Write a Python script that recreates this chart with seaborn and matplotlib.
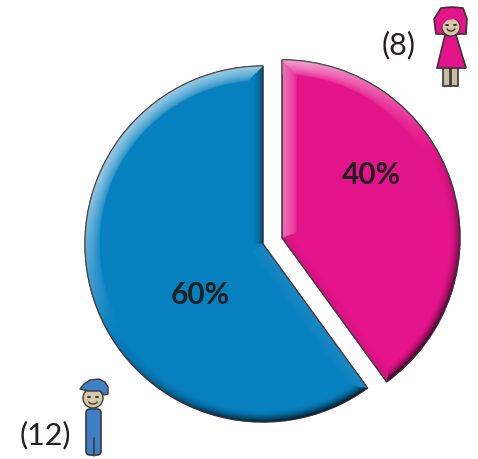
#!/usr/bin/env python3
import numpy as np
import matplotlib
matplotlib.use('Agg')
import matplotlib.pyplot as plt
from matplotlib.patches import Circle, Polygon, Rectangle, FancyBboxPatch, PathPatch
import seaborn as sns

sns.set_theme(style='white')
plt.rcParams['font.family'] = ['Lato', 'DejaVu Sans']

# data
groups = ['Women', 'Men']
counts = [8, 12]
percent_labels = ['40%', '60%']
count_labels = ['(8)', '(12)']
palette = sns.color_palette(['#E4148A', '#0680BF'])

W, H = 478, 460
CENTER = (263, H - 245)
RADIUS = 178
EXPLODE = (20, 0)  # pie adds this to the centre as is, so it's in pixels here

def Y(y):
    return H - y

def bevel(ax, wedge):
    # light top/left, dark bottom/right, faded in from the wedge's edge
    cx, cy = wedge.center
    R = wedge.r
    t1, t2 = np.deg2rad(wedge.theta1), np.deg2rad(wedge.theta2)
    xs = np.arange(cx - R - 2, cx + R + 2, 0.5)
    ys = np.arange(cy - R - 2, cy + R + 2, 0.5)
    gx, gy = np.meshgrid(xs, ys)
    dx, dy = gx - cx, gy - cy
    r = np.hypot(dx, dy) + 1e-6
    best = R - r
    nx, ny = dx / r, dy / r
    # straight sides only count along their own ray (blue wedge is reflex)
    for t, sign in ((t1, -1), (t2, 1)):
        ex, ey = np.cos(t), np.sin(t)
        px, py = -ey * sign, ex * sign
        d = -(dx * px + dy * py)
        along = dx * ex + dy * ey
        use = (d < best) & (d >= 0) & (along > 0)
        best = np.where(use, d, best)
        nx = np.where(use, px, nx)
        ny = np.where(use, py, ny)
    s = nx * -0.5 + ny * 0.85
    light = np.clip(1 - best / 15, 0, 1) ** 0.55 * np.clip(s * 1.3, 0, 1) * 0.6
    dark = np.clip(1 - best / 11, 0, 1) ** 1.6 * np.clip(-s, 0, 1) * 0.85
    rgba = np.zeros(gx.shape + (4,))
    rgba[..., :3] = np.where(light[..., None] > 0, 1.0, 0.0)
    rgba[..., 3] = light + dark
    im = ax.imshow(rgba, extent=(xs[0], xs[-1], ys[0], ys[-1]), origin='lower',
                   interpolation='bilinear', zorder=2, aspect='equal')
    im.set_clip_path(wedge)

def woman(ax, ec='#3a3335'):
    pink = palette[0]
    for x0, x1 in ((443, 450), (451, 458)):
        ax.add_patch(Rectangle((x0, Y(87)), x1 - x0, 19, fc='#c9bda0', ec=ec, lw=1.2, zorder=4))
    ax.add_patch(Polygon([(445, Y(36)), (456, Y(36)), (466, Y(69)), (437, Y(69))],
                         fc=pink, ec=ec, lw=1.2, zorder=5))
    hair = [(436, Y(35)), (434, Y(20)), (441, Y(9)), (452, Y(8)), (463, Y(9)), (467, Y(20)),
            (466, Y(35)), (459, Y(35)), (450, Y(37)), (442, Y(35))]
    ax.add_patch(Polygon(hair, closed=True, fc=pink, ec=ec, lw=1.2, joinstyle='round', zorder=5))
    ax.add_patch(Circle((451, Y(28)), 9, fc='#d6c7a6', ec=ec, lw=0.8, zorder=6))
    ax.add_patch(Polygon([(441, Y(28)), (441, Y(16)), (450, Y(13)), (462, Y(15)), (462, Y(26)),
                          (456, Y(20)), (447, Y(21))], fc=pink, ec='none', zorder=7))
    ax.plot([446, 448], [Y(26), Y(26)], color=ec, lw=1.4, zorder=8)
    ax.plot([454, 456], [Y(26), Y(26)], color=ec, lw=1.4, zorder=8)
    arc = np.linspace(np.pi * 1.1, np.pi * 1.9, 12)
    ax.plot(451 + 4 * np.cos(arc), Y(29) + 3 * np.sin(arc), color=ec, lw=1, zorder=8)

def man(ax, ec='#3a3a3a', blue='#3E7FC6'):
    ax.add_patch(FancyBboxPatch((86, Y(456)), 15, 46, boxstyle='round,pad=0,rounding_size=4',
                                fc=blue, ec=ec, lw=1.2, zorder=4))
    ax.plot([93.5, 93.5], [Y(457), Y(439)], color=ec, lw=1.2, zorder=5)
    ax.add_patch(Circle((93, Y(399)), 10, fc='#d6c7a6', ec=ec, lw=1, zorder=5))
    cap = [(80, Y(390)), (84, Y(385)), (90, Y(381)), (99, Y(380)), (105, Y(383)), (108, Y(388)),
           (108, Y(395)), (104, Y(396)), (100, Y(392)), (88, Y(392)), (84, Y(391))]
    ax.add_patch(Polygon(cap, closed=True, fc=blue, ec=ec, lw=1, joinstyle='round', zorder=6))
    ax.plot([88, 90], [Y(398), Y(398)], color=ec, lw=1.4, zorder=7)
    ax.plot([96, 98], [Y(398), Y(398)], color=ec, lw=1.4, zorder=7)
    arc = np.linspace(np.pi * 1.1, np.pi * 1.9, 12)
    ax.plot(93 + 4.5 * np.cos(arc), Y(402) + 3 * np.sin(arc), color=ec, lw=1, zorder=7)

fig = plt.figure(figsize=(W / 100, H / 100), dpi=100)
ax = fig.add_axes([0, 0, 1, 1])

wedges, _ = ax.pie(counts, colors=palette, explode=EXPLODE, startangle=90, counterclock=False,
                   center=CENTER, radius=RADIUS, frame=True,
                   wedgeprops=dict(edgecolor='#4a3f48', linewidth=1.0))
for w in wedges:
    bevel(ax, w)
    w.set_zorder(1)

ax.set_xlim(0, W)
ax.set_ylim(0, H)
ax.set_aspect('equal')
ax.axis('off')

for w in wedges:
    ax.add_patch(PathPatch(w.get_path(), transform=w.get_transform(), fc='none',
                           ec='#3c3a40', lw=0.8, alpha=0.7, zorder=3))

ax.text(371, Y(175), percent_labels[0], ha='center', va='center', fontsize=21.5,
        fontweight='bold', color='#231F20', zorder=9)
ax.text(200, Y(295), percent_labels[1], ha='center', va='center', fontsize=21.5,
        fontweight='bold', color='#231F20', zorder=9)
ax.text(399, Y(45), count_labels[0], ha='center', va='center', fontsize=22, color='#231F20')
ax.text(45, Y(435), count_labels[1], ha='center', va='center', fontsize=22, color='#231F20')

woman(ax)
man(ax)

fig.savefig('out.png', dpi=100, facecolor='white')
